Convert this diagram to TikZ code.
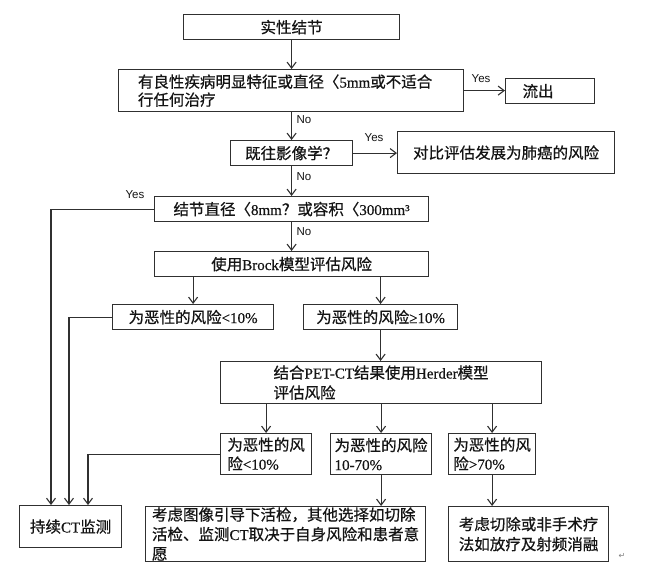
\documentclass[tikz,border=0pt]{standalone}
\usepackage{fontspec}
\setmainfont{Liberation Serif}
\newfontfamily\cjk[FakeBold=0.6]{Noto Sans CJK SC}
\newfontfamily\latf[FakeBold=0.4]{Liberation Serif}
\newfontfamily\labfont{Liberation Sans}
\newfontfamily\symfont{DejaVu Sans}
\usetikzlibrary{arrows.meta}
\definecolor{lc}{HTML}{303030}
\definecolor{tc}{HTML}{141414}
\newcommand{\la}[1]{{\latf\fontsize{15}{16}\selectfont #1}}
\begin{document}
\begin{tikzpicture}[x=1pt,y=-1pt,
  box/.style={draw=lc, line width=1.2pt, inner xsep=0pt, inner ysep=0pt, text=tc, anchor=north west, font={\fontsize{15.5}{19}\selectfont\cjk}},
  arr/.style={draw=lc, line width=1.1pt, -{Straight Barb[length=6pt,width=9pt]}},
  lbl/.style={font={\labfont\fontsize{11.5}{13}\selectfont}, inner sep=0pt, text=tc},
]
\useasboundingbox[fill=white] (0,0) rectangle (660,564);

% boxes
\node[box, minimum width=216pt, minimum height=25pt] (n1) at (183,14) {实性结节};
\node[box, minimum width=345pt, minimum height=42pt, align=left, font={\fontsize{15.5}{18}\selectfont\cjk}] (n2) at (118,69)
  {有良性疾病明显特征或直径〈\la{5mm}或不适合\hspace*{12pt}\\行任何治疗};
\node[box, minimum width=89pt, minimum height=25pt] (out) at (505,78) {流出\hspace*{24pt}};
\node[box, minimum width=122pt, minimum height=25pt] (n3) at (230,140) {既往影像学？};
\node[box, minimum width=217pt, minimum height=42pt] (cmp) at (397,131) {对比评估发展为肺癌的风险};
\node[box, minimum width=274pt, minimum height=25pt] (n4) at (154,196) {结节直径〈\la{8mm}？或容积〈\la{300mm³}};
\node[box, minimum width=274pt, minimum height=25pt] (n5) at (154,251) {使用\la{Brock}模型评估风险};
\node[box, minimum width=161pt, minimum height=25pt] (n6) at (112,304) {为恶性的风险\la{<10\%}};
\node[box, minimum width=154pt, minimum height=25pt] (n7) at (303,304) {为恶性的风险\la{≥10\%}};
\node[box, minimum width=321pt, minimum height=42pt, align=left, font={\fontsize{15.5}{20}\selectfont\cjk}] (her) at (220,361)
  {结合\la{PET-CT}结果使用\la{Herder}模型\\评估风险\hspace*{14pt}};
\node[box, minimum width=91pt, minimum height=41pt, align=left] (b8) at (220,433) {为恶性的风\\险\la{<10\%}};
\node[box, minimum width=101pt, minimum height=41pt, align=left] (b9) at (330,433) {为恶性的风险\\\la{10-70\%}};
\node[box, minimum width=87pt, minimum height=41pt, align=left] (b10) at (448,433) {为恶性的风\\险\la{>70\%}};
\node[box, minimum width=102pt, minimum height=42pt] (ct) at (19,505) {持续\la{CT}监测};
\node[box, minimum width=280pt, minimum height=55pt, align=left, font={\fontsize{15.5}{19.5}\selectfont\cjk}] (bm) at (145,506)
  {考虑图像引导下活检，其他选择如切除\\活检、监测\la{CT}取决于自身风险和患者意\\愿};
\node[box, minimum width=160pt, minimum height=55pt, align=left, font={\fontsize{15.5}{20}\selectfont\cjk}] (br) at (448,506)
  {考虑切除或非手术疗\\法如放疗及射频消融};

% connectors
\draw[arr] (n1.south) -- (n1.south |- n2.north);
\draw[arr] (n2.east) -- (n2.east -| out.west);
\draw[arr] (n3.north |- n2.south) -- (n3.north);
\draw[arr] (n3.east) -- (n3.east -| cmp.west);
\draw[arr] (n3.south) -- (n3.south |- n4.north);
\draw[arr] (n4.west) -| ([xshift=32pt]ct.north west);
\draw[arr] (n4.south) -- (n4.south |- n5.north);
\draw[arr] (n6.north |- n5.south) -- (n6.north);
\draw[arr] (n7.north |- n5.south) -- (n7.north);
\draw[arr] (n6.west) -| ([xshift=50pt]ct.north west);
\draw[arr] (n7.south) -- (n7.south |- her.north);
\draw[arr] (b8.north |- her.south) -- (b8.north);
\draw[arr] (b9.north |- her.south) -- (b9.north);
\draw[arr] (b10.north |- her.south) -- (b10.north);
\draw[arr] (b8.west) -| ([xshift=69pt]ct.north west);
\draw[arr] (b9.south) -- (b9.south |- bm.north);
\draw[arr] (b10.south) -- (b10.south |- br.north);

% labels
\node[lbl] (y1) at (481,79) {Yes};
\node[lbl] (no1) at (304,120) {No};
\node[lbl] (y2) at (374,138) {Yes};
\node[lbl] (no2) at (304,177) {No};
\node[lbl] (y3) at (135,195) {Yes};
\node[lbl] (no3) at (304,232) {No};
\node[font={\symfont\fontsize{8}{9}\selectfont}, text=gray, inner sep=0pt] (pm) at (622,556) {↵};
\end{tikzpicture}
\end{document}
